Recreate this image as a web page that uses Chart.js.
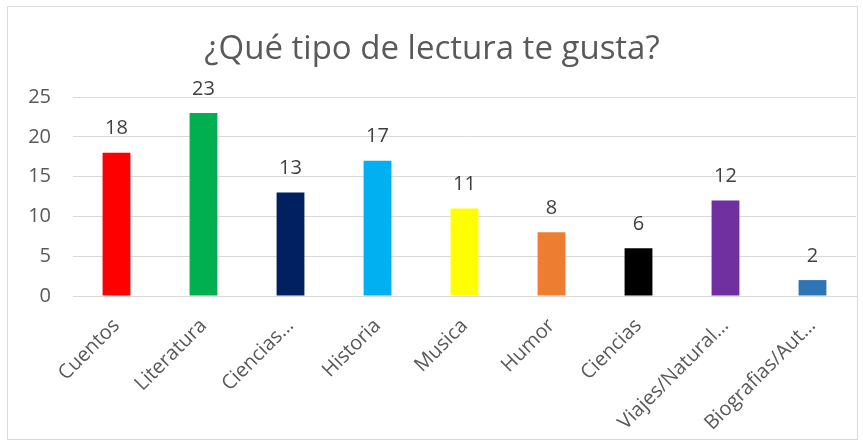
<!DOCTYPE html>
<html><head><meta charset="utf-8">
<script src="https://cdn.jsdelivr.net/npm/chart.js@4/dist/chart.umd.min.js"></script>
<style>html,body{margin:0;padding:0;background:#fff}#wrap{width:863px;height:445px}</style>
</head><body><div id="wrap"><canvas id="c" width="863" height="445"></canvas></div>
<script>
const categories = ["Cuentos","Literatura","Ciencias…","Historia","Musica","Humor","Ciencias","Viajes/Natural…","Biografias/Aut…"];
const values = [18,23,13,17,11,8,6,12,2];
const barColors = ["#FF0000","#00B050","#002060","#00B0F0","#FFFF00","#ED7D31","#000000","#7030A0","#2E75B6"];
const yTicks = [0,5,10,15,20,25];
const titleText = "¿Qué tipo de lectura te gusta?";
const FONT = "'Open Sans', 'Noto Sans', sans-serif";

const borderPlugin = {
  id:'outerBorder',
  beforeDraw(chart){
    const ctx = chart.ctx;
    ctx.save();
    ctx.fillStyle = '#fff';
    ctx.fillRect(0,0,chart.width,chart.height);
    ctx.strokeStyle = '#d9d9d9';
    ctx.lineWidth = 1;
    ctx.strokeRect(7.5,6.5,850,433);
    ctx.restore();
  }
};
const labelPlugin = {
  id:'barLabels',
  afterDatasetsDraw(chart){
    const ctx = chart.ctx;
    const meta = chart.getDatasetMeta(0);
    ctx.save();
    ctx.font = "20px " + FONT;
    ctx.fillStyle = '#404040';
    ctx.textAlign = 'center';
    ctx.textBaseline = 'bottom';
    meta.data.forEach((el,i)=>{
      ctx.fillText(String(chart.data.datasets[0].data[i]), el.x, el.y - 14);
    });
    ctx.restore();
  }
};

new Chart(document.getElementById('c'), {
  type:'bar',
  data:{ labels:categories, datasets:[{ data:values, backgroundColor:barColors, barPercentage:0.32, categoryPercentage:1 }]},
  options:{
    responsive:false, animation:false,
    layout:{ padding:{ left:8, right:7, top:0, bottom:6 } },
    plugins:{
      legend:{display:false}, tooltip:{enabled:false},
      title:{ display:true, text:titleText, color:'#595959', font:{family:FONT, size:33, weight:'normal', lineHeight:1.2}, padding:{top:30, bottom:27.4} }
    },
    scales:{
      x:{
        grid:{display:false, drawTicks:false},
        border:{display:true, color:'#d9d9d9'},
        ticks:{ color:'#595959', font:{family:FONT, size:20}, maxRotation:45, minRotation:45, autoSkip:false, padding:18 },
        afterFit(s){ s.height = 445 - 296 - 6; }
      },
      y:{
        min:0, max:25,
        afterBuildTicks(s){ s.ticks = yTicks.map(v=>({value:v})); },
        grid:{ color:'#d9d9d9', drawTicks:false },
        border:{display:false},
        ticks:{ color:'#595959', font:{family:FONT, size:20}, padding:22 },
        afterFit(s){ s.width = 73 - 8; }
      }
    }
  },
  plugins:[borderPlugin, labelPlugin]
});
</script></body></html>
